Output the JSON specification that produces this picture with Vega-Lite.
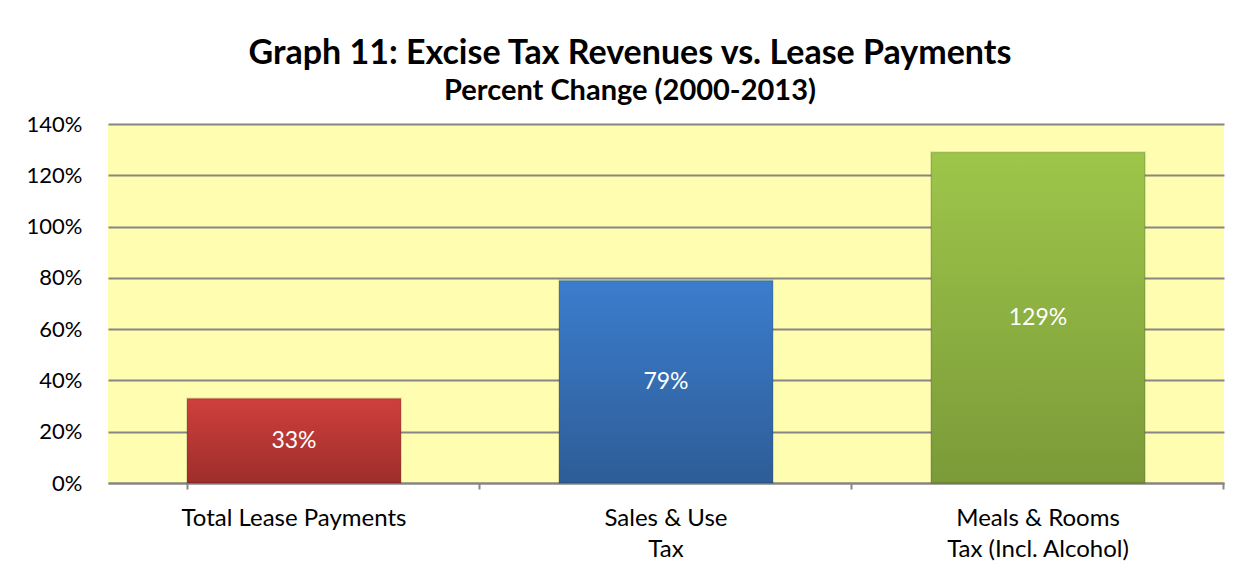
{
  "$schema": "https://vega.github.io/schema/vega-lite/v6.json",
  "width": 1116,
  "height": 359,
  "autosize": {"type": "none"},
  "padding": {"left": 108, "top": 124, "right": 27, "bottom": 89},
  "background": "white",
  "title": {
    "text": "Graph 11: Excise Tax Revenues vs. Lease Payments",
    "subtitle": "Percent Change (2000-2013)",
    "font": "Lato",
    "fontSize": 34,
    "fontWeight": "bold",
    "color": "black",
    "subtitleFont": "Lato",
    "subtitleFontSize": 29,
    "subtitleFontWeight": "bold",
    "subtitleColor": "black",
    "subtitlePadding": 6,
    "anchor": "middle",
    "frame": "group",
    "dx": -36,
    "offset": 7
  },
  "data": {
    "values": [
      {"category": "Total Lease Payments", "value": 0.33},
      {"category": "Sales & Use Tax", "value": 0.79},
      {"category": "Meals & Rooms Tax (Incl. Alcohol)", "value": 1.29}
    ]
  },
  "encoding": {
    "x": {
      "field": "category",
      "type": "nominal",
      "sort": null,
      "scale": {"paddingInner": 0.425, "paddingOuter": 0.2125},
      "axis": {
        "title": null,
        "labelAngle": 0,
        "labelFont": "Lato",
        "labelFontSize": 24,
        "labelColor": "black",
        "labelPadding": 17,
        "labelLineHeight": 31,
        "labelLimit": 0,
        "labelExpr": "datum.value === 'Sales & Use Tax' ? ['Sales & Use', 'Tax'] : datum.value === 'Meals & Rooms Tax (Incl. Alcohol)' ? ['Meals & Rooms', 'Tax (Incl. Alcohol)'] : datum.value",
        "domainColor": "#868686",
        "domainWidth": 2,
        "tickColor": "#868686",
        "tickWidth": 2,
        "tickSize": 6,
        "bandPosition": 1.369,
        "tickExtra": true,
        "grid": false
      }
    }
  },
  "layer": [
    {
      "mark": {"type": "bar", "stroke": "#000000", "strokeOpacity": 0.12, "strokeWidth": 2},
      "encoding": {
        "y": {
          "field": "value",
          "type": "quantitative",
          "scale": {"domain": [0, 1.4], "nice": false},
          "axis": {
            "title": null,
            "values": [0, 0.2, 0.4, 0.6, 0.8, 1.0, 1.2, 1.4],
            "format": ".0%",
            "domain": false,
            "ticks": false,
            "labelFont": "Lato",
            "labelFontSize": 22,
            "labelColor": "black",
            "labelPadding": 26,
            "gridColor": "#868686",
            "gridWidth": 2
          }
        },
        "color": {
          "condition": [
            {
              "test": "datum.category === 'Total Lease Payments'",
              "value": {"gradient": "linear", "x1": 0, "y1": 0, "x2": 0, "y2": 1, "stops": [{"offset": 0, "color": "#CE403C"}, {"offset": 1, "color": "#9E2D2B"}]}
            },
            {
              "test": "datum.category === 'Sales & Use Tax'",
              "value": {"gradient": "linear", "x1": 0, "y1": 0, "x2": 0, "y2": 1, "stops": [{"offset": 0, "color": "#3B7DCD"}, {"offset": 1, "color": "#2E5D97"}]}
            }
          ],
          "value": {"gradient": "linear", "x1": 0, "y1": 0, "x2": 0, "y2": 1, "stops": [{"offset": 0, "color": "#9EC64A"}, {"offset": 1, "color": "#7B9A39"}]}
        }
      }
    },
    {
      "mark": {"type": "text", "color": "white", "font": "Lato", "fontSize": 23, "baseline": "middle", "align": "center"},
      "encoding": {
        "y": {
          "field": "value",
          "type": "quantitative",
          "scale": {"domain": [0, 2.8], "nice": false},
          "axis": null
        },
        "text": {"field": "value", "type": "quantitative", "format": ".0%"}
      }
    }
  ],
  "resolve": {"scale": {"y": "independent"}},
  "config": {
    "view": {"fill": "#FFFDAF", "stroke": null}
  }
}
